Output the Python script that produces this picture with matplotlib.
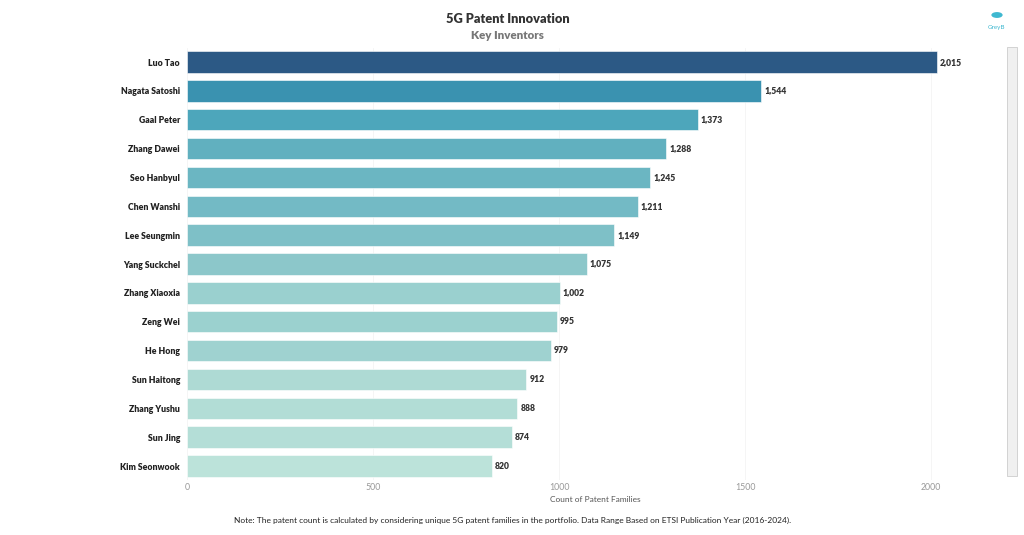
import matplotlib
matplotlib.use('Agg')
import matplotlib.pyplot as plt
from matplotlib.colors import LinearSegmentedColormap, Normalize
from matplotlib.patches import Rectangle, Circle

inventors = ['Luo Tao', 'Nagata Satoshi', 'Gaal Peter', 'Zhang Dawei', 'Seo Hanbyul',
             'Chen Wanshi', 'Lee Seungmin', 'Yang Suckchel', 'Zhang Xiaoxia', 'Zeng Wei',
             'He Hong', 'Sun Haitong', 'Zhang Yushu', 'Sun Jing', 'Kim Seonwook']
counts = [2015, 1544, 1373, 1288, 1245, 1211, 1149, 1075, 1002, 995, 979, 912, 888, 874, 820]
xticks = [0, 500, 1000, 1500, 2000]

plt.rcParams['font.family'] = ['Lato', 'DejaVu Sans']

cmap = LinearSegmentedColormap.from_list('tab', [
    (0.0, '#BCE3DA'), (0.077, '#AEDAD4'), (0.15, '#9AD0CF'), (0.21, '#8CC7CA'),
    (0.33, '#72BAC5'), (0.39, '#62B0BF'), (0.46, '#4DA6BB'), (0.61, '#3A92B0'),
    (1.0, '#2C5985')])
norm = Normalize(min(counts), max(counts))

fig = plt.figure(figsize=(10.24, 5.35), dpi=100)
ax = fig.add_axes([0.1826, 0.102, 0.755, 0.809])

ypos = list(range(len(inventors)))
colors = [cmap(norm(v)) for v in counts]
ax.barh(ypos, counts, height=0.74, color=colors, edgecolor='white', linewidth=0.4, zorder=2)
for y, v in zip(ypos, counts):
    ax.text(v + 8, y, f'{v:,}', va='center', ha='left', fontsize=6.2,
            fontweight='heavy', color='#333333')

ax.set_ylim(len(inventors) - 0.5, -0.5)
ax.set_xlim(0, 2078)
ax.set_yticks(ypos)
ax.set_yticklabels(inventors, fontsize=6.2, fontweight='heavy', color='#222222')
ax.set_xticks(xticks)
ax.set_xticklabels([str(t) for t in xticks], fontsize=6.3, color='#999999')
ax.tick_params(axis='y', length=0, pad=5)
ax.tick_params(axis='x', length=0, pad=2)
ax.grid(axis='x', color='#f4f4f4', linewidth=0.6, zorder=0)
for s in ax.spines.values():
    s.set_visible(False)
ax.set_xlabel('Count of Patent Families', fontsize=6, color='#555555')
ax.xaxis.set_label_coords(0.528, -0.035)

fig.text(0.496, 0.964, '5G Patent Innovation', ha='center', va='center',
         fontsize=9.2, fontweight='heavy', color='#333333')
fig.text(0.496, 0.934, 'Key Inventors', ha='center', va='center',
         fontsize=8.3, fontweight='heavy', color='#777777')
fig.text(0.501, 0.027, 'Note: The patent count is calculated by considering unique 5G patent '
         'families in the portfolio. Data Range Based on ETSI Publication Year (2016-2024).',
         ha='center', va='center', fontsize=6.0, color='#222222')

# scrollbar
fig.patches.append(Rectangle((1007 / 1024, 1 - 476 / 535), 10 / 1024, 429 / 535,
                             transform=fig.transFigure, facecolor='#f0f0f0',
                             edgecolor='#cccccc', linewidth=0.6))
# logo
fig.patches.append(Circle((997 / 1024, 1 - 15 / 535), 0.0055, transform=fig.transFigure,
                          facecolor='#3fb8d0', edgecolor='none'))
fig.text(997 / 1024, 1 - 28 / 535, 'GreyB', ha='center', va='center', fontsize=4.5,
         color='#3fb8d0')

fig.savefig('out.png', dpi=100, facecolor='white')
